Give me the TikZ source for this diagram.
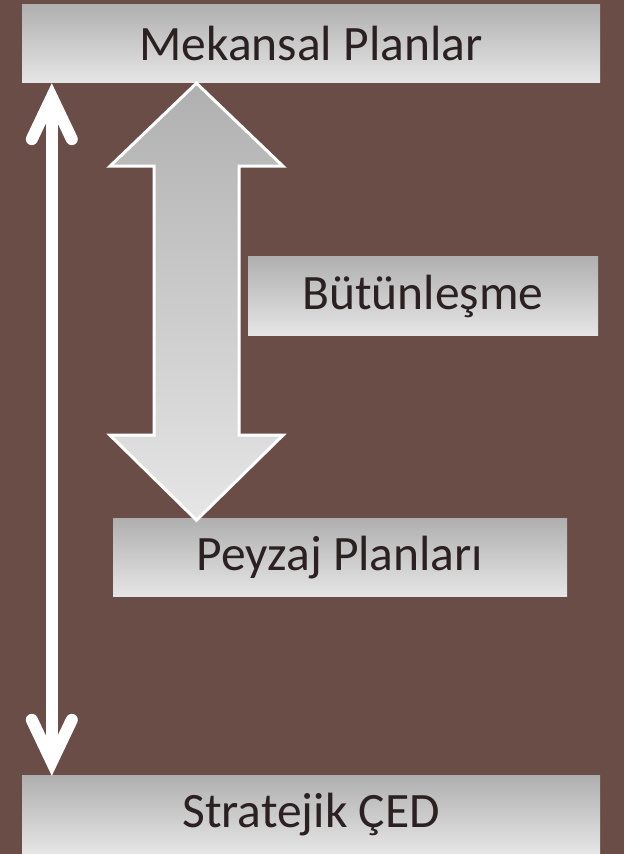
\documentclass[tikz,border=0pt]{standalone}
\usepackage{fontspec}
\setmainfont{Carlito}
\usetikzlibrary{arrows.meta}
\definecolor{bgbrown}{HTML}{6B4D48}
\definecolor{boxtop}{HTML}{B0B0B0}
\definecolor{boxbot}{HTML}{E6E6E6}
\definecolor{txtdark}{HTML}{2B2022}
\begin{document}
\begin{tikzpicture}[x=1pt,y=1pt,
  planbox/.style={rectangle,inner sep=0pt,top color=boxtop,bottom color=boxbot,
    text=txtdark,font=\fontsize{49.5}{55}\selectfont},
  blockarrow/.style={draw=white,line width=3pt,line join=miter,top color=boxtop,bottom color=boxbot},
  whitearrow/.style={draw=white,line width=12pt,
    {Straight Barb[length=42pt,width=40pt,line cap=round,line join=miter]}-{Straight Barb[length=42pt,width=40pt,line cap=round,line join=miter]}}]
  % Background
  \fill[bgbrown] (0,0) rectangle (624,854);
  \useasboundingbox (0,0) rectangle (624,854);
  % Boxes
  \node[planbox,minimum width=578pt,minimum height=78pt] (mek) at (311,810) {Mekansal Planlar};
  \node[planbox,minimum width=350pt,minimum height=79pt] (but) at (423,557.5) {Bütünleşme};
  \node[planbox,minimum width=454pt,minimum height=78pt] (pey) at (340,296) {Peyzaj Planları};
  \node[planbox,minimum width=578pt,minimum height=78pt] (sced) at (311,39) {Stratejik ÇED};
  % Long arrow
  \draw[whitearrow] ([xshift=30pt]mek.south west) -- ([xshift=30pt]sced.north west);
  % Block arrow
  \coordinate (tipup) at (196.5,0 |- mek.south);
  \draw[blockarrow] (tipup) -- ++(-86.5,-83) -- ++(44,0) -- ++(0,-269) -- ++(-44,0)
    -- ++(86.5,-85) -- ++(86.5,85) -- ++(-44,0) -- ++(0,269) -- ++(44,0) -- cycle;
\end{tikzpicture}
\end{document}
